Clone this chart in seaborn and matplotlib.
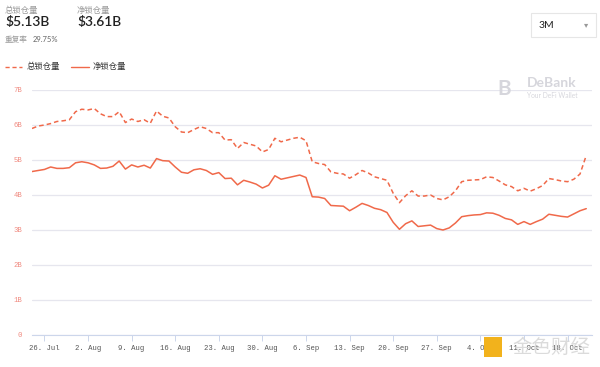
"""DeBank TVL chart: total vs net locked value, last 3 months."""

import matplotlib.dates as mdates
import matplotlib.pyplot as plt
import pandas as pd
import seaborn as sns
from matplotlib.lines import Line2D
from matplotlib.patches import FancyBboxPatch, Rectangle

START = "2021-07-24"

TOTAL_B = [
    5.90, 5.97, 6.00, 6.04, 6.10, 6.12, 6.15, 6.38, 6.45, 6.43,
    6.47, 6.32, 6.24, 6.24, 6.38, 6.07, 6.17, 6.10, 6.15, 6.05,
    6.40, 6.25, 6.20, 5.95, 5.80, 5.78, 5.87, 5.95, 5.90, 5.78,
    5.78, 5.57, 5.58, 5.33, 5.50, 5.45, 5.40, 5.23, 5.30, 5.62,
    5.52, 5.57, 5.62, 5.65, 5.55, 4.95, 4.90, 4.87, 4.66, 4.62,
    4.60, 4.48, 4.58, 4.70, 4.63, 4.52, 4.47, 4.42, 4.05, 3.78,
    3.98, 4.12, 3.97, 3.97, 4.00, 3.90, 3.86, 3.95, 4.12, 4.38,
    4.42, 4.43, 4.44, 4.52, 4.50, 4.40, 4.29, 4.24, 4.12, 4.19,
    4.11, 4.18, 4.27, 4.47, 4.44, 4.40, 4.38, 4.45, 4.60, 5.13,
]
NET_B = [
    4.67, 4.70, 4.73, 4.80, 4.76, 4.76, 4.78, 4.92, 4.95, 4.92,
    4.86, 4.76, 4.77, 4.82, 4.97, 4.74, 4.86, 4.80, 4.85, 4.77,
    5.04, 4.98, 4.97, 4.80, 4.65, 4.62, 4.72, 4.75, 4.70, 4.59,
    4.64, 4.47, 4.48, 4.29, 4.42, 4.37, 4.31, 4.20, 4.28, 4.55,
    4.45, 4.49, 4.53, 4.57, 4.50, 3.95, 3.94, 3.90, 3.70, 3.69,
    3.68, 3.55, 3.65, 3.76, 3.70, 3.62, 3.58, 3.50, 3.22, 3.02,
    3.18, 3.26, 3.10, 3.12, 3.14, 3.04, 3.00, 3.06, 3.20, 3.38,
    3.41, 3.43, 3.44, 3.49, 3.48, 3.42, 3.33, 3.29, 3.16, 3.24,
    3.16, 3.24, 3.31, 3.45, 3.42, 3.39, 3.37, 3.46, 3.55, 3.61,
]
SERIES = ["总锁仓量", "净锁仓量"]
Y_TICKS = [0, 1, 2, 3, 4, 5, 6, 7]
Y_LABELS = ["0", "1B", "2B", "3B", "4B", "5B", "6B", "7B"]

LINE_COLOR = "#f0694a"
CJK = ["Noto Sans CJK SC", "DejaVu Sans"]
WM = "#d6d6dc"


def main() -> None:
    sns.set_style("white")
    plt.rcParams["font.family"] = CJK

    dates = pd.date_range(START, periods=len(TOTAL_B), freq="D")
    df = pd.concat([
        pd.DataFrame({"date": dates, "value": TOTAL_B, "series": SERIES[0]}),
        pd.DataFrame({"date": dates, "value": NET_B, "series": SERIES[1]}),
    ])

    fig = plt.figure(figsize=(6, 3.67), dpi=100)
    ax = fig.add_axes([0.0533, 0.0872, 0.9333, 0.6676])

    sns.lineplot(
        data=df, x="date", y="value", style="series",
        dashes={SERIES[0]: (3, 2), SERIES[1]: ""},
        color=LINE_COLOR, linewidth=1.1, legend=False, ax=ax,
    )

    ax.set_ylim(0, 7)
    ax.set_xlim(dates[0], dates[-1] + pd.Timedelta(hours=22))
    ax.set_yticks(Y_TICKS)
    ax.set_yticklabels(Y_LABELS)
    ax.grid(axis="y", color="#e6e6ee", linewidth=0.9)
    ax.set_xlabel("")
    ax.set_ylabel("")
    for side in ["top", "right", "left"]:
        ax.spines[side].set_visible(False)
    ax.spines["bottom"].set_color("#ccd6eb")
    ax.spines["bottom"].set_linewidth(0.8)

    ax.xaxis.set_major_locator(mdates.WeekdayLocator(byweekday=mdates.MO))
    ax.xaxis.set_major_formatter(mdates.DateFormatter("%-d. %b"))
    ax.tick_params(axis="x", length=4, width=0.7, color="#ccd6eb", pad=3,
                   labelsize=5.2, labelcolor="#555555", bottom=True)
    ax.tick_params(axis="y", length=0, pad=7, labelsize=5.2, labelcolor="#f08a80")
    for lab in ax.get_xticklabels() + ax.get_yticklabels():
        lab.set_family("Liberation Mono")

    # header
    fig.text(5 / 600, 1 - 10 / 367, "总锁仓量", fontsize=6, color="#999999", va="center")
    fig.text(5 / 600, 1 - 22 / 367, "$5.13B", fontsize=10, fontweight="semibold",
             color="#222222", va="center", family="Lato")
    fig.text(77 / 600, 1 - 10 / 367, "净锁仓量", fontsize=6, color="#999999", va="center")
    fig.text(77 / 600, 1 - 22 / 367, "$3.61B", fontsize=10, fontweight="semibold",
             color="#222222", va="center", family="Lato")
    fig.text(5 / 600, 1 - 40 / 367, "重复率", fontsize=5.5, color="#999999", va="center")
    fig.text(33 / 600, 1 - 40 / 367, "29.75%", fontsize=5.5, color="#666666",
             va="center", family="Lato")

    # period selector
    box = FancyBboxPatch((531 / 600, 1 - 37 / 367), 65 / 600, 24 / 367,
                         boxstyle="square,pad=0", transform=fig.transFigure,
                         facecolor="white", edgecolor="#e6e6e6", linewidth=0.8)
    fig.patches.append(box)
    fig.text(539 / 600, 1 - 25 / 367, "3M", fontsize=7.5, color="#222222",
             va="center", family="Lato")
    fig.text(584 / 600, 1 - 25 / 367, "▾", fontsize=6, color="#999999",
             va="center", family="DejaVu Sans")

    # legend
    handles = [
        Line2D([], [], color=LINE_COLOR, linewidth=1.0, dashes=(3, 2)),
        Line2D([], [], color=LINE_COLOR, linewidth=1.0),
    ]
    leg = fig.legend(handles, SERIES, loc="center left",
                     bbox_to_anchor=(-0.005, 1 - 67 / 367), ncol=2, frameon=False,
                     fontsize=6, handlelength=2.1, handletextpad=0.5,
                     columnspacing=1.4)
    for t in leg.get_texts():
        t.set_color("#333333")

    # watermarks
    fig.text(527 / 600, 1 - 83 / 367, "DeBank", fontsize=10, fontweight="bold",
             color=WM, va="center", family="Lato")
    fig.text(527 / 600, 1 - 95 / 367, "Your DeFi Wallet", fontsize=4.8,
             color=WM, va="center", family="Lato")
    fig.text(497 / 600, 1 - 89 / 367, "B", fontsize=15, fontweight="bold",
             color=WM, va="center", family="Lato")
    fig.patches.append(Rectangle((484 / 600, 1 - 357 / 367), 18 / 600, 20 / 367,
                                 transform=fig.transFigure, facecolor="#f2b21c",
                                 edgecolor="none"))
    fig.text(512 / 600, 1 - 347 / 367, "金色财经", fontsize=14, color="#d8d8d8",
             va="center", alpha=0.9)

    fig.savefig("out.png", dpi=100)
    plt.close(fig)


if __name__ == "__main__":
    main()
